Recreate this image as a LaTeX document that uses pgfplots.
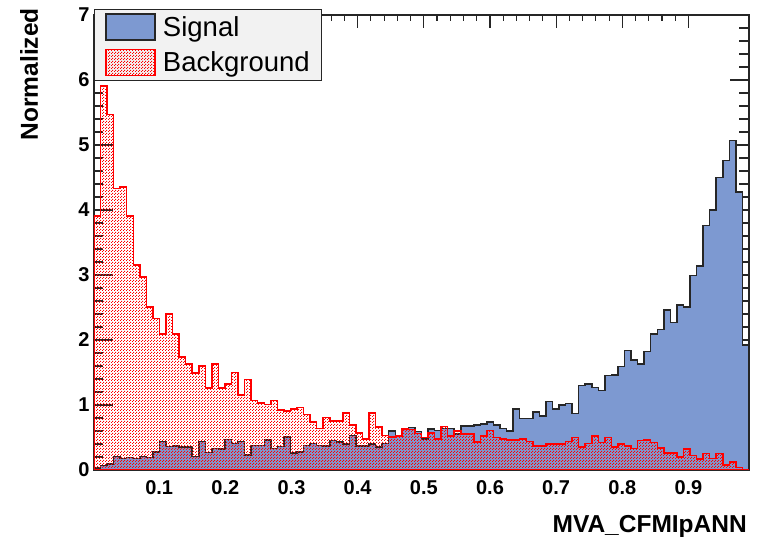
\documentclass[border=0pt]{standalone}
\usepackage{fontspec}
\setmainfont{Liberation Sans}
\usepackage{pgfplots}
\pgfplotsset{compat=1.18}
\usepackage{pgfplotstable}
\usetikzlibrary{patterns}

\definecolor{sigblue}{HTML}{7D99D1}
\definecolor{sigline}{HTML}{262626}
\definecolor{leggray}{HTML}{F2F2F2}

% ROOT fill style 3554-ish: fine red dots
\pgfdeclarepatternformonly{rootdots}{\pgfpointorigin}{\pgfqpoint{3pt}{3pt}}{\pgfqpoint{3pt}{3pt}}{%
  \pgfpathrectangle{\pgfpointorigin}{\pgfqpoint{1.2pt}{1.2pt}}%
  \pgfpathrectangle{\pgfqpoint{1.5pt}{1.5pt}}{\pgfqpoint{1.2pt}{1.2pt}}%
  \pgfusepath{fill}}

% bin low edges, signal, background (last row closes the final bin)
\pgfplotstableread{
x sig bkg
0.0015 0.03 3.91
0.0114 0.07 5.91
0.0213 0.09 5.47
0.0312 0.21 4.33
0.0411 0.18 4.35
0.0510 0.19 3.91
0.0609 0.18 3.15
0.0708 0.21 2.97
0.0807 0.19 2.51
0.0906 0.28 2.33
0.1005 0.44 2.09
0.1104 0.36 2.40
0.1203 0.37 2.09
0.1302 0.35 1.74
0.1401 0.35 1.63
0.1500 0.21 1.49
0.1599 0.44 1.60
0.1698 0.27 1.26
0.1797 0.33 1.63
0.1896 0.32 1.26
0.1995 0.47 1.32
0.2094 0.41 1.50
0.2193 0.44 1.15
0.2292 0.23 1.39
0.2391 0.38 1.07
0.2490 0.38 1.03
0.2589 0.46 1.01
0.2688 0.33 1.07
0.2787 0.36 0.92
0.2886 0.51 0.91
0.2985 0.26 0.94
0.3084 0.28 0.96
0.3183 0.38 0.85
0.3282 0.41 0.74
0.3381 0.38 0.64
0.3480 0.37 0.81
0.3579 0.45 0.75
0.3678 0.43 0.75
0.3777 0.40 0.88
0.3876 0.53 0.69
0.3975 0.37 0.57
0.4074 0.37 0.48
0.4173 0.40 0.88
0.4272 0.35 0.66
0.4371 0.41 0.53
0.4470 0.60 0.51
0.4569 0.52 0.52
0.4668 0.63 0.63
0.4767 0.65 0.62
0.4866 0.59 0.56
0.4965 0.48 0.50
0.5064 0.63 0.57
0.5163 0.61 0.48
0.5262 0.64 0.67
0.5361 0.64 0.52
0.5460 0.55 0.60
0.5559 0.68 0.55
0.5658 0.68 0.55
0.5757 0.69 0.43
0.5856 0.71 0.52
0.5955 0.74 0.61
0.6054 0.69 0.50
0.6153 0.64 0.48
0.6252 0.60 0.46
0.6351 0.94 0.46
0.6450 0.79 0.48
0.6549 0.79 0.44
0.6648 0.89 0.37
0.6747 0.83 0.37
0.6846 1.05 0.40
0.6945 0.94 0.40
0.7044 1.00 0.40
0.7143 1.02 0.44
0.7242 0.87 0.50
0.7341 1.30 0.35
0.7440 1.32 0.41
0.7539 1.27 0.52
0.7638 1.22 0.42
0.7737 1.45 0.50
0.7836 1.46 0.35
0.7935 1.59 0.40
0.8034 1.84 0.37
0.8133 1.69 0.33
0.8232 1.63 0.45
0.8331 1.82 0.46
0.8430 2.09 0.42
0.8529 2.16 0.34
0.8628 2.46 0.26
0.8727 2.27 0.26
0.8826 2.54 0.20
0.8925 2.51 0.32
0.9024 2.99 0.22
0.9123 3.14 0.17
0.9222 3.76 0.25
0.9321 4.00 0.18
0.9420 4.50 0.25
0.9519 4.76 0.08
0.9618 5.07 0.12
0.9717 4.28 0.04
0.9816 1.92 0.01
0.9915 1.92 0.01
}\hist

\begin{document}
\begin{tikzpicture}
\path[use as bounding box] (-94pt,-67pt) rectangle (670pt,470pt);
\begin{axis}[
    scale only axis,
    width=655pt, height=455pt,
    xmin=0.0015, xmax=0.9915,
    ymin=0, ymax=7,
    xtick={0.1,0.2,0.3,0.4,0.5,0.6,0.7,0.8,0.9},
    ytick={0,1,2,3,4,5,6,7},
    minor x tick num=4,
    minor y tick num=4,
    tick align=inside,
    axis line style={line width=1.2pt, black!85},
    xtick style={/pgfplots/major tick length=13pt, /pgfplots/minor tick length=6.5pt, line width=1.1pt, black!85},
    ytick style={/pgfplots/major tick length=19pt, /pgfplots/minor tick length=9.5pt, line width=1.1pt, black!85},
    /pgf/number format/assume math mode=true,
    ticklabel style={font=\bfseries\fontsize{20}{20}\selectfont},
    xticklabel style={yshift=-7pt},
    yticklabel style={xshift=-1pt},
    xlabel={MVA\_CFMIpANN},
    ylabel={Normalized},
    label style={font=\bfseries\fontsize{24.5}{24.5}\selectfont, inner sep=0pt},
    xlabel style={at={([xshift=-2pt,yshift=-45pt]rel axis cs:1,0)}, anchor=north east},
    ylabel style={at={([xshift=-56pt,yshift=7pt]rel axis cs:0,1)}, anchor=base east},
    legend image code/.code={\draw[#1] (0pt,-13pt) rectangle (49pt,13pt);},
    legend cell align=left,
    legend style={at={([yshift=6pt]rel axis cs:0,1)}, anchor=north west,
      draw=black!85, line width=1pt, fill=leggray,
      font=\fontsize{27.5}{27.5}\selectfont,
      inner xsep=11pt, inner ysep=4pt, row sep=8pt,
      nodes={inner sep=1pt},
      /tikz/every odd column/.append style={column sep=6pt}},
  ]
  \addplot[const plot, fill=sigblue, draw=sigline, line width=1.5pt]
    table[x=x, y=sig] {\hist} \closedcycle;
  \addlegendentry{Signal}
  \addplot[const plot, pattern=rootdots, pattern color=red, draw=red, line width=1.5pt]
    table[x=x, y=bkg] {\hist} \closedcycle;
  \addlegendentry{Background}
\end{axis}
\end{tikzpicture}
\end{document}
